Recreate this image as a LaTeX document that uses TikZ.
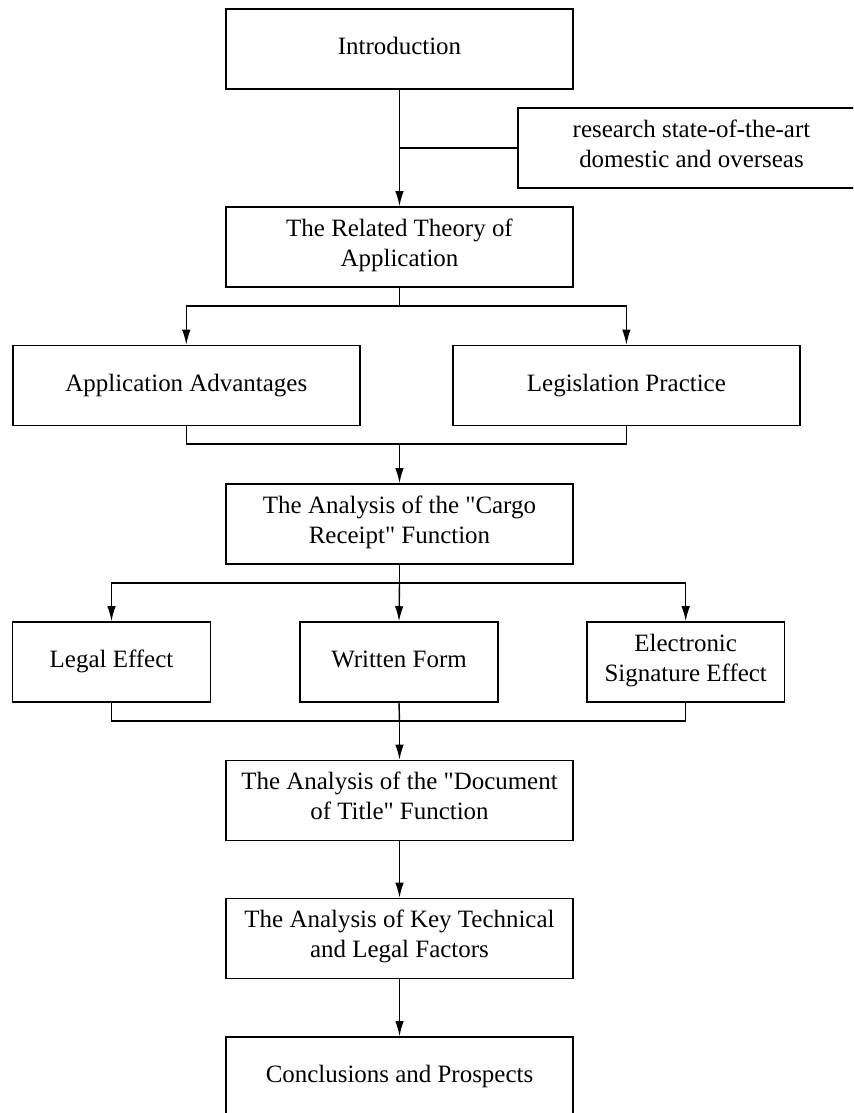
\documentclass[tikz,border=0pt]{standalone}
\usepackage{fontspec}
\setmainfont{Liberation Serif}
\usepackage{tikz}
\usetikzlibrary{arrows.meta}

\tikzset{
  stage/.style={draw, line width=0.9pt, minimum width=6.94cm, minimum height=1.6cm,
    align=center, inner sep=2pt, font=\fontsize{14.2pt}{17pt}\selectfont,
    execute at begin node=\strut, execute at end node=\strut},
  substage/.style={stage, minimum width=3.96cm},
  flow/.style={line width=0.8pt, -{Latex[length=0.3cm,width=0.17cm]}},
  link/.style={line width=0.8pt}
}

\begin{document}
\begin{tikzpicture}[x=0.02cm,y=-0.02cm]
		\useasboundingbox (0,0) rectangle (853,1113);
		\clip (0,0) rectangle (853,1113);
		% boxes
		\node[stage] (intro) at (399.5,49) {Introduction};
		\node[stage] (research) at (691.5,148) {research state-of-the-art\\domestic and overseas};
		\node[stage] (theory) at (399.5,247) {The Related Theory of\\Application};
		\node[stage] (adv) at (186.3,385.5) {Application Advantages};
		\node[stage] (legis) at (626.4,385.5) {Legislation Practice};
		\node[stage] (cargo) at (399.5,524) {The Analysis of the \textquotedbl Cargo\\Receipt\textquotedbl{} Function};
		\node[substage] (legal) at (111.5,662) {Legal Effect};
		\node[substage] (written) at (399,662) {Written Form};
		\node[substage] (esig) at (685.7,662) {Electronic\\Signature Effect};
		\node[stage] (doctitle) at (399.5,800.5) {The Analysis of the \textquotedbl Document\\of Title\textquotedbl{} Function};
		\node[stage] (factors) at (399.5,938.5) {The Analysis of Key Technical\\and Legal Factors};
		\node[stage] (concl) at (399.5,1077) {Conclusions and Prospects};

		% junction points
		\coordinate (B1) at (399.5,306);
		\coordinate (M1) at (399.5,444);
		\coordinate (B2) at (399.5,583);
		\coordinate (M2) at (399.5,721);

		\draw[flow] (intro.south) -- (theory.north);
		\draw[link] (research.west) -- (research.west -| intro.south);

		\draw[link] (theory.south) -- (B1);
		\draw[flow] (B1) -| (adv.north);
		\draw[flow] (B1) -| (legis.north);
		\draw[link] (adv.south) |- (M1) -| (legis.south);
		\draw[flow] (M1) -- (cargo.north);

		\draw[link] (cargo.south) -- (B2);
		\draw[flow] (B2) -| (legal.north);
		\draw[flow] (B2) -- (written.north);
		\draw[flow] (B2) -| (esig.north);
		\draw[link] (legal.south) |- (M2) -| (esig.south);
		\draw[link] (written.south) -- (M2);
		\draw[flow] (M2) -- (doctitle.north);

		\draw[flow] (doctitle.south) -- (factors.north);
		\draw[flow] (factors.south) -- (concl.north);
\end{tikzpicture}
\end{document}
